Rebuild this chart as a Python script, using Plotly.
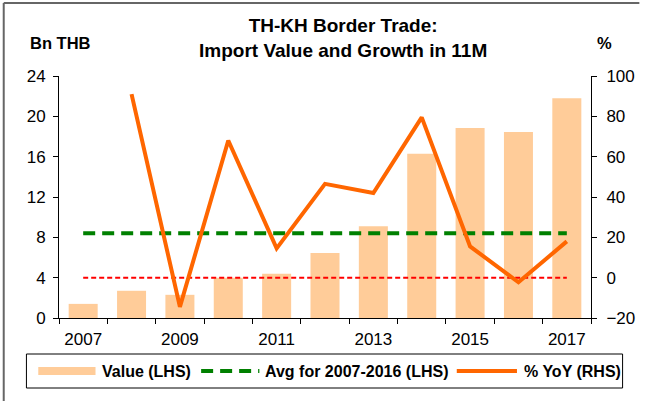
import plotly.graph_objects as go

years = [2007, 2008, 2009, 2010, 2011, 2012, 2013, 2014, 2015, 2016, 2017]
value_bn_thb = [1.4, 2.7, 2.3, 4.0, 4.4, 6.45, 9.1, 16.3, 18.85, 18.45, 21.8]
yoy_years = [2008, 2009, 2010, 2011, 2012, 2013, 2014, 2015, 2016, 2017]
yoy_pct = [91, -14.5, 68, 14.5, 46.5, 42, 79.5, 15.5, -2.3, 18]
avg_years = [2007, 2017]
avg_value = sum(value_bn_thb[:10]) / 10
x_tick_labels = ["2007", "2009", "2011", "2013", "2015", "2017"]

W, H = 647, 401
L, R, T, B = 59, 598, 76, 318
FONT = "Liberation Sans, Arial, sans-serif"
BAR_C = "#FFCC99"
GREEN = "#008000"
ORANGE = "#FF6600"


def px_x(p):
    return (p - L) / (R - L)


def px_y(p):
    return (B - p) / (B - T)


fig = go.Figure()
fig.add_trace(go.Bar(x=years, y=value_bn_thb, marker=dict(color=BAR_C, line=dict(width=0)),
                     width=0.6, name="Value (LHS)", yaxis="y"))
fig.add_trace(go.Scatter(x=avg_years, y=[avg_value, avg_value], mode="lines",
                         line=dict(color=GREEN, width=4, dash="12px,7px"),
                         name="Avg for 2007-2016 (LHS)", yaxis="y"))
fig.add_trace(go.Scatter(x=avg_years, y=[0, 0], mode="lines",
                         line=dict(color="#FF0000", width=2, dash="5px,3px"),
                         name="zero", yaxis="y2", showlegend=False))
fig.add_trace(go.Scatter(x=yoy_years, y=yoy_pct, mode="lines",
                         line=dict(color=ORANGE, width=4),
                         name="% YoY (RHS)", yaxis="y2"))

tick_font = dict(family=FONT, size=17, color="black")
fig.update_layout(
    width=W, height=H,
    margin=dict(l=L, r=W - R, t=T, b=H - B, pad=0),
    paper_bgcolor="white", plot_bgcolor="white",
    showlegend=False,
    xaxis=dict(range=[years[0] - 0.5, years[-1] + 0.5], tickmode="array",
               tickvals=[int(t) for t in x_tick_labels], ticktext=x_tick_labels,
               ticks="", showline=True, linecolor="black", linewidth=1,
               showgrid=False, zeroline=False, tickfont=tick_font, ticklabelstandoff=6,
               minor=dict(ticks="outside", tick0=years[0] - 0.5, dtick=1, ticklen=5,
                          tickcolor="black", tickwidth=1, showgrid=False)),
    yaxis=dict(range=[0, 24], dtick=4, tick0=0, ticks="outside", ticklen=5,
               tickcolor="black", showline=True, linecolor="black", linewidth=1,
               showgrid=False, zeroline=False, tickfont=tick_font, ticklabelstandoff=4),
    yaxis2=dict(range=[-20, 100], dtick=20, tick0=-20, ticks="outside", ticklen=5,
                tickcolor="black", showline=True, linecolor="black", linewidth=1,
                showgrid=False, zeroline=False, tickfont=tick_font, ticklabelstandoff=6,
                overlaying="y", side="right"),
    bargap=0.4,
)

anns = [
    dict(text="<b>TH-KH Border Trade:<br>Import Value and Growth in 11M</b>",
         x=px_x(347), y=px_y(38), xanchor="center", yanchor="middle",
         font=dict(family=FONT, size=19, color="black")),
    dict(text="<b>Bn THB</b>", x=px_x(28), y=px_y(43), xanchor="left", yanchor="middle",
         font=dict(family=FONT, size=16.5, color="black")),
    dict(text="<b>%</b>", x=px_x(612), y=px_y(43), xanchor="center", yanchor="middle",
         font=dict(family=FONT, size=16.5, color="black")),
    dict(text="<b>Value (LHS)</b>", x=px_x(101), y=px_y(371), xanchor="left", yanchor="middle",
         font=dict(family=FONT, size=16, color="black")),
    dict(text="<b>Avg for 2007-2016 (LHS)</b>", x=px_x(266), y=px_y(371), xanchor="left",
         yanchor="middle", font=dict(family=FONT, size=16, color="black")),
    dict(text="<b>% YoY (RHS)</b>", x=px_x(528), y=px_y(371), xanchor="left", yanchor="middle",
         font=dict(family=FONT, size=16, color="black")),
]
for a in anns:
    a.update(xref="paper", yref="paper", showarrow=False)
fig.update_layout(annotations=anns)

shapes = [
    # legend frame
    dict(type="rect", x0=px_x(26), x1=px_x(630), y0=px_y(354), y1=px_y(388),
         line=dict(color="black", width=1), fillcolor="rgba(0,0,0,0)"),
    dict(type="rect", x0=px_x(38), x1=px_x(96), y0=px_y(367), y1=px_y(375),
         line=dict(width=0), fillcolor=BAR_C),
    dict(type="line", x0=px_x(203), x1=px_x(262), y0=px_y(371), y1=px_y(371),
         line=dict(color=GREEN, width=4, dash="12px,7px")),
    dict(type="line", x0=px_x(462), x1=px_x(523), y0=px_y(371), y1=px_y(371),
         line=dict(color=ORANGE, width=4)),
    # outer chart frame (top and left edges)
    dict(type="line", x0=px_x(3), x1=px_x(647), y0=px_y(3), y1=px_y(3),
         line=dict(color="#333333", width=1.5)),
    dict(type="line", x0=px_x(3), x1=px_x(3), y0=px_y(3), y1=px_y(401),
         line=dict(color="#666666", width=2)),
]
for s in shapes:
    s.update(xref="paper", yref="paper", layer="above")
fig.update_layout(shapes=shapes)

fig.write_html("out.html", config={"displayModeBar": False},
               post_script="document.body.style.margin='0';document.body.style.overflow='hidden';")
